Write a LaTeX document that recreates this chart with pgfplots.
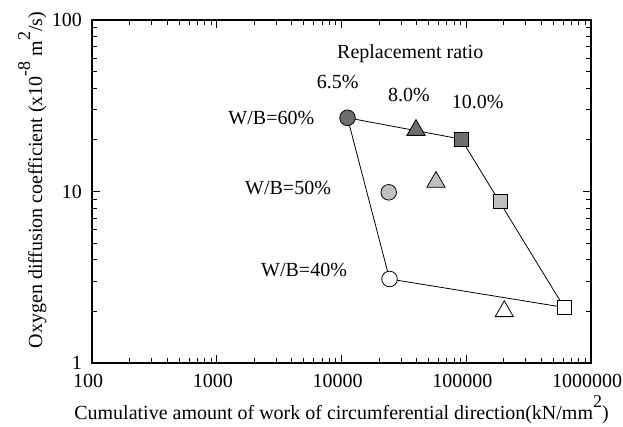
\documentclass[border=0pt]{standalone}
\usepackage{fontspec}
\setmainfont{Liberation Serif}
\usepackage{pgfplots}
\pgfplotsset{compat=1.18}
\usetikzlibrary{calc}
\definecolor{dk}{RGB}{110,110,110}
\definecolor{lt}{RGB}{192,192,192}
\begin{document}
\fontsize{20bp}{24bp}\selectfont
\begin{tikzpicture}
\begin{axis}[name=ax, scale only axis, width=499bp, height=343bp,
 xmode=log, ymode=log, xmin=100, xmax=1000000, ymin=1, ymax=100,
 xtick={100,1000,10000,100000,1000000},
 xticklabels={100,1000,10000,100000,1000000},
 ytick={1,10,100}, yticklabels={1,10,100},
 tick align=inside, major tick length=8bp, minor tick length=5bp,
 axis line style={line width=1.6bp},
 every tick/.style={black, line width=1bp},
 font=\fontsize{20bp}{24bp}\selectfont,
 /pgf/number format/assume math mode=true,
 xticklabel style={anchor=north, inner sep=0pt, yshift=-11bp, xshift=-4bp},
 yticklabel style={anchor=east, inner sep=0pt, xshift=-10bp},
 xlabel={Cumulative amount of work of circumferential direction(kN/mm\raisebox{12bp}{\fontsize{18bp}{20bp}\selectfont 2})},
 ylabel={Oxygen diffusion coefficient (x10\raisebox{12bp}{\fontsize{18bp}{20bp}\selectfont -8} m\raisebox{12bp}{\fontsize{18bp}{20bp}\selectfont 2}/s)},
 xlabel style={at={(axis description cs:0.5,-0.166)}, anchor=base, inner sep=0pt},
 ylabel style={at={(axis description cs:-0.1002,0.5335)}, anchor=base, inner sep=0pt},
]
% W/B = 60%
\addplot[only marks, mark=*, mark size=7.8bp, mark options={fill=dk, draw=black, line width=0.8bp}] coordinates {(11170,26.9)};
\addplot[only marks, mark=triangle*, mark size=10.5bp, mark options={fill=dk, draw=black, line width=0.8bp}] coordinates {(39550,22.8)};
\addplot[only marks, mark=square*, mark size=7bp, mark options={fill=dk, draw=black, line width=0.8bp}] coordinates {(91100,20.2)};
% W/B = 50%
\addplot[only marks, mark=*, mark size=7.8bp, mark options={fill=lt, draw=black, line width=0.8bp}] coordinates {(23900,9.89)};
\addplot[only marks, mark=triangle*, mark size=10.5bp, mark options={fill=lt, draw=black, line width=0.8bp}] coordinates {(57200,11.36)};
\addplot[only marks, mark=square*, mark size=7bp, mark options={fill=lt, draw=black, line width=0.8bp}] coordinates {(188200,8.71)};
% W/B = 40%
\addplot[only marks, mark=*, mark size=7.8bp, mark options={fill=white, draw=black, line width=0.8bp}] coordinates {(24270,3.09)};
\addplot[only marks, mark=triangle*, mark size=10.5bp, mark options={fill=white, draw=black, line width=0.8bp}] coordinates {(201800,2.0)};
\addplot[only marks, mark=square*, mark size=7bp, mark options={fill=white, draw=black, line width=0.8bp}] coordinates {(609600,2.11)};
% polygon
\addplot[black, line width=0.8bp, no marks] coordinates {(11170,26.9) (91100,20.2) (609600,2.11) (24270,3.09) (11170,26.9)};
% annotations
\node[anchor=base west, inner sep=0pt] at (axis description cs:0.491,0.888) {Replacement ratio};
\node[anchor=base west, inner sep=0pt] at (axis description cs:0.4503,0.801) {6.5\%};
\node[anchor=base west, inner sep=0pt] at (axis description cs:0.5932,0.7618) {8.0\%};
\node[anchor=base west, inner sep=0pt] at (axis description cs:0.7208,0.7434) {10.0\%};
\node[anchor=base west, inner sep=0pt] at (axis description cs:0.2731,0.696) {W/B=60\%};
\node[anchor=base west, inner sep=0pt] at (axis description cs:0.3066,0.4898) {W/B=50\%};
\node[anchor=base west, inner sep=0pt] at (axis description cs:0.3387,0.2536) {W/B=40\%};
\end{axis}
\pgfresetboundingbox
\useasboundingbox ($(ax.south west)+(-92bp,-64bp)$) rectangle ($(ax.north east)+(32bp,20bp)$);
\end{tikzpicture}
\end{document}
